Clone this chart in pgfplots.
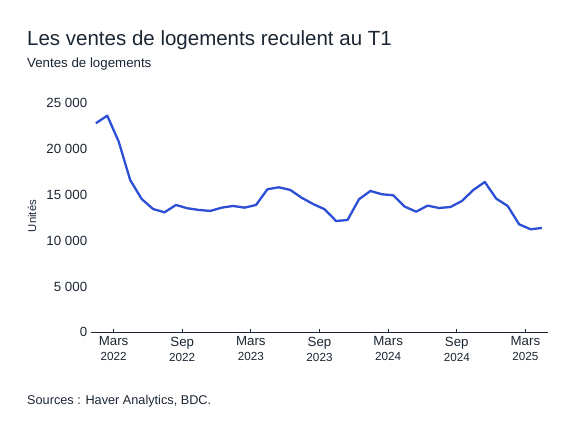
\documentclass[border=0pt]{standalone}
\usepackage{fontspec}
\setmainfont{Liberation Sans}
\usepackage{pgfplots}
\pgfplotsset{compat=1.18}
\definecolor{txt}{HTML}{1B2633}
\definecolor{lineblue}{HTML}{2C4FD6}
\begin{document}
\begin{tikzpicture}[x=1pt,y=1pt]
\path[use as bounding box,fill=white] (0,0) rectangle (575,432);
\node[anchor=base west,text=txt,inner sep=0pt,font=\fontsize{20.5}{24}\selectfont] at (27,386.3) {Les ventes de logements reculent au T1};
\node[anchor=base west,text=txt,inner sep=0pt,font=\fontsize{13.3}{16}\selectfont] at (27,364.7) {Ventes de logements};
\node[anchor=base west,text=txt,inner sep=0pt,font=\fontsize{12.7}{15}\selectfont] at (27,28) {Sources : Haver Analytics, BDC.};
\node[rotate=90,text=txt,inner sep=0pt,font=\fontsize{11.3}{13}\selectfont] at (32,216) {Unités};
\begin{axis}[
  at={(90.7pt,99.7pt)}, anchor=south west,
  scale only axis, width=457.6pt, height=229pt,
  xmin=0, xmax=40, ymin=0, ymax=25000,
  axis lines*=left,
  y axis line style={draw=none},
  x axis line style={draw=txt, line width=1.4pt},
  scaled y ticks=false,
  ytick={0,5000,10000,15000,20000,25000},
  yticklabels={0,5 000,10 000,15 000,20 000,25 000},
  ytick style={draw=none},
  yticklabel style={text=txt,font=\fontsize{13.3}{16}\selectfont, xshift=0pt},
  xtick={2,8,14,20,26,32,38},
  xticklabels={
    {Mars\\[-1pt]{\fontsize{11.7}{14}\selectfont 2022}},
    {Sep\\[-1pt]{\fontsize{11.7}{14}\selectfont 2022}},
    {Mars\\[-1pt]{\fontsize{11.7}{14}\selectfont 2023}},
    {Sep\\[-1pt]{\fontsize{11.7}{14}\selectfont 2023}},
    {Mars\\[-1pt]{\fontsize{11.7}{14}\selectfont 2024}},
    {Sep\\[-1pt]{\fontsize{11.7}{14}\selectfont 2024}},
    {Mars\\[-1pt]{\fontsize{11.7}{14}\selectfont 2025}}},
  xticklabel style={text=txt,align=center,font=\fontsize{13.3}{16}\selectfont, yshift=-1pt},
  tick align=inside, major tick length=3.5pt,
  xtick style={draw=txt, line width=0.9pt},
  /pgf/number format/assume math mode=true,
  clip=false,
]
\addplot[lineblue, line width=2.3pt, line join=round] coordinates {
(0.45,22820) (1.45,23650) (2.45,20810) (3.45,16630) (4.45,14560)
(5.45,13460) (6.45,13100) (7.45,13900) (8.45,13540) (9.45,13360)
(10.45,13250) (11.45,13610) (12.45,13790) (13.45,13610) (14.45,13900)
(15.45,15620) (16.45,15830) (17.45,15540) (18.45,14680) (19.45,14000)
(20.45,13430) (21.45,12150) (22.45,12260) (23.45,14520) (24.45,15430)
(25.45,15070) (26.45,14960) (27.45,13720) (28.45,13170) (29.45,13830)
(30.45,13570) (31.45,13680) (32.45,14340) (33.45,15540) (34.45,16410)
(35.45,14590) (36.45,13790) (37.45,11790) (38.45,11250) (39.45,11390)
};
\end{axis}
\end{tikzpicture}
\end{document}
